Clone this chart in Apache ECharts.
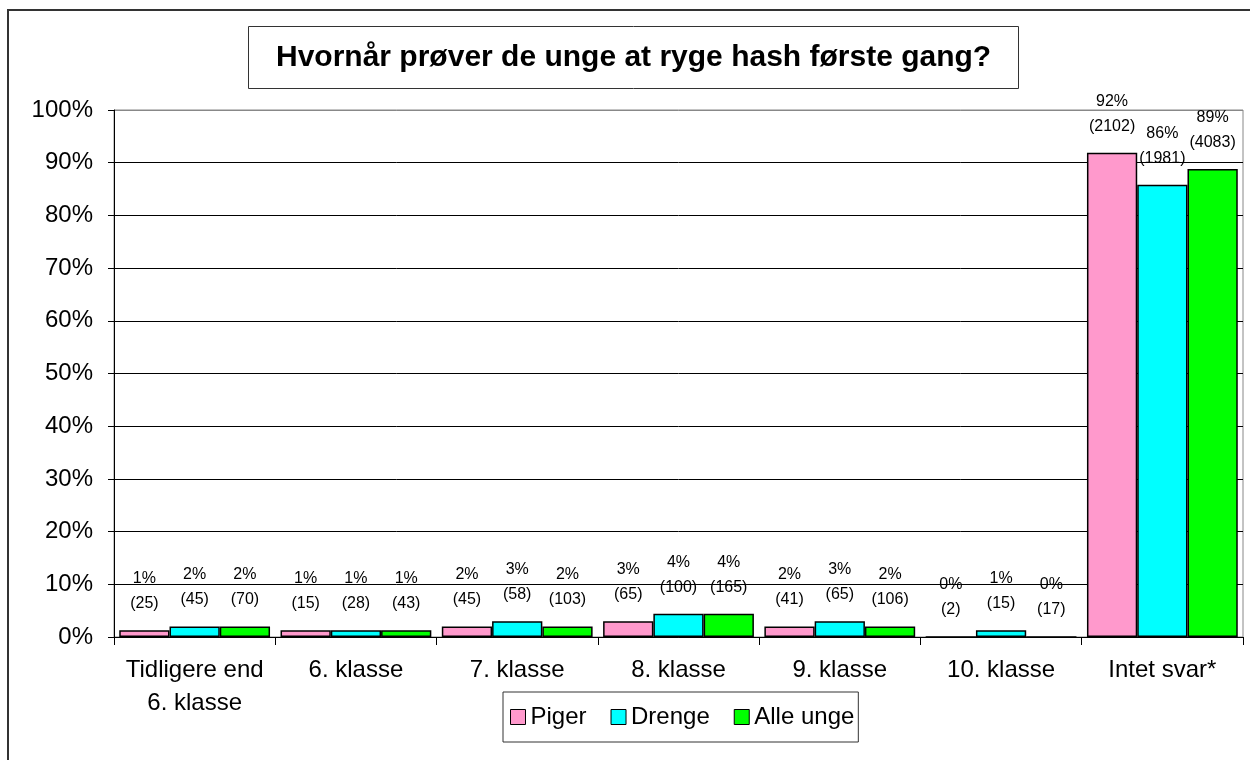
<!DOCTYPE html>
<html>
<head>
<meta charset="utf-8">
<script src="https://cdn.jsdelivr.net/npm/echarts@6/dist/echarts.min.js"></script>
<style>
  html, body { margin: 0; padding: 0; background: #fff; }
  #chart { width: 1250px; height: 760px; }
</style>
</head>
<body>
<div id="chart"></div>
<script>
const categories = ['Tidligere end\n6. klasse', '6. klasse', '7. klasse', '8. klasse', '9. klasse', '10. klasse', 'Intet svar*'];
const yTicks = [0, 10, 20, 30, 40, 50, 60, 70, 80, 90, 100];

// bar heights in percent
const pigerValues = [1.3, 1.3, 2.0, 3.0, 2.0, 0, 91.9];
const drengeValues = [2.0, 1.3, 3.0, 4.4, 3.0, 1.3, 85.8];
const alleValues = [2.0, 1.3, 2.0, 4.4, 2.0, 0, 88.8];

// counts shown in brackets
const pigerCounts = [25, 15, 45, 65, 41, 2, 2102];
const drengeCounts = [45, 28, 58, 100, 65, 15, 1981];
const alleCounts = [70, 43, 103, 165, 106, 17, 4083];

const font = 'Arial, "Liberation Sans", sans-serif';

const makeSeries = (name, color, values, counts) => ({
    name,
    type: 'bar',
    data: values,
    barGap: '0%',
    barCategoryGap: '6.5%',
    itemStyle: { color, borderColor: '#000', borderWidth: 1.5 },
    label: {
        show: true,
        position: 'top',
        distance: 14,
        fontFamily: font,
        fontSize: 16,
        color: '#000',
        lineHeight: 25,
        formatter: (p) => Math.round(p.value) + '%\n(' + counts[p.dataIndex] + ')'
    }
});

const chart = echarts.init(document.getElementById('chart'));

chart.setOption({
    animation: false,
    backgroundColor: '#fff',
    textStyle: { fontFamily: font },
    graphic: [{
        type: 'rect',
        shape: { x: 8, y: 10, width: 1300, height: 800 },
        style: { fill: 'none', stroke: '#333', lineWidth: 2 },
        silent: true
    }],
    title: {
        text: 'Hvornår prøver de unge at ryge hash første gang?',
        left: 248,
        top: 26,
        padding: [14, 28, 14, 28],
        borderColor: '#333',
        borderWidth: 1,
        textStyle: { fontFamily: font, fontSize: 30, fontWeight: 'bold', color: '#000', lineHeight: 35 }
    },
    legend: {
        left: 503,
        top: 692,
        padding: [13, 4, 13, 7],
        borderColor: '#333',
        borderWidth: 1,
        itemWidth: 15,
        itemHeight: 15,
        itemGap: 24,
        icon: 'rect',
        itemStyle: { borderColor: '#000', borderWidth: 1 },
        textStyle: { fontFamily: font, fontSize: 24, color: '#000' },
        data: ['Piger', 'Drenge', 'Alle unge']
    },
    grid: {
        left: 114,
        right: 7,
        top: 110,
        bottom: 123,
        show: true,
        borderColor: '#888',
        borderWidth: 1
    },
    xAxis: {
        type: 'category',
        data: categories,
        axisLine: { lineStyle: { color: '#000', width: 1 } },
        axisTick: { show: true, length: 8, lineStyle: { color: '#000' } },
        axisLabel: {
            margin: 17,
            fontFamily: font,
            fontSize: 24,
            lineHeight: 33,
            color: '#000',
            interval: 0
        }
    },
    yAxis: {
        type: 'value',
        min: 0,
        max: 100,
        interval: 10,
        axisLine: { show: true, lineStyle: { color: '#000', width: 1 } },
        axisTick: { show: true, length: 6, lineStyle: { color: '#000' } },
        axisLabel: {
            margin: 21,
            fontFamily: font,
            fontSize: 24,
            color: '#000',
            formatter: (v) => yTicks.includes(v) ? v + '%' : ''
        },
        splitLine: {
            show: true,
            lineStyle: {
                color: ['#000', '#000', '#000', '#000', '#000', '#000', '#000', '#000', '#000', '#000', '#888'],
                width: 1
            }
        }
    },
    series: [
        makeSeries('Piger', '#FF99CC', pigerValues, pigerCounts),
        makeSeries('Drenge', '#00FFFF', drengeValues, drengeCounts),
        makeSeries('Alle unge', '#00FF00', alleValues, alleCounts)
    ]
});
</script>
</body>
</html>
